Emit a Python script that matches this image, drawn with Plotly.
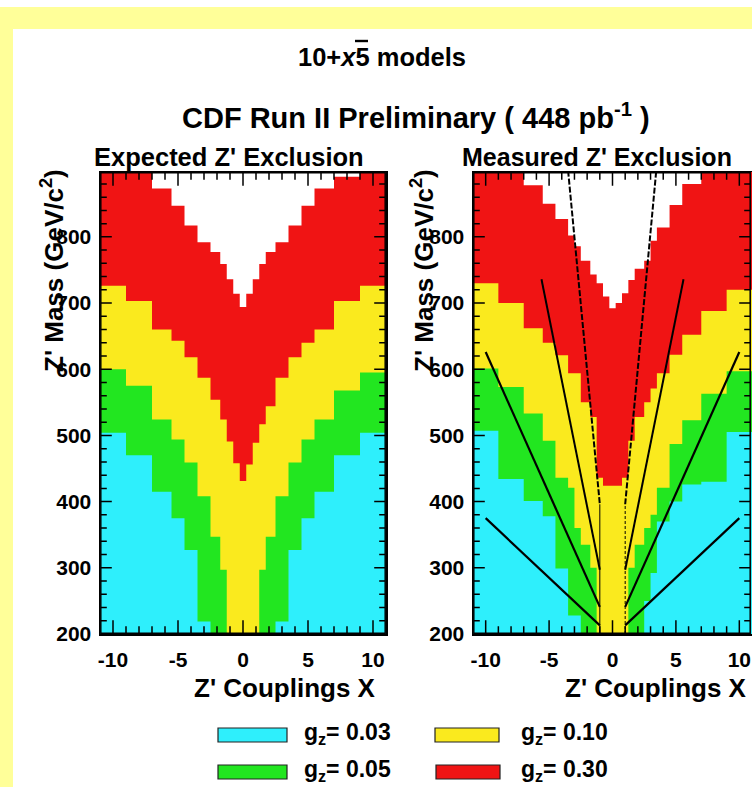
import plotly.graph_objects as go

# ---------------- data ----------------
# coupling bins (bin edges) for the two panels
EDGES_EXP = [-11, -9, -7, -5.5, -4.5, -3.5, -2.5, -1.75, -1.25, -0.75, -0.25,
             0.25, 0.75, 1.25, 1.75, 2.5, 3.5, 4.5, 5.5, 7, 9, 11]
EDGES_MEAS = [-11, -9, -7, -5.5, -4.5, -3.5, -3, -2.5, -1.75, -1.25, -0.75, -0.25,
              0.25, 0.75, 1.25, 1.75, 2.5, 3, 3.5, 4.5, 5.5, 7, 9, 11]

# upper excluded Z' mass (GeV/c^2) in each coupling bin, per g_z value
EXP_G030 = [900, 900, 873, 847, 817, 792, 777, 759, 736, 714, 694, 714, 736, 759, 777, 792, 817, 847, 873, 891, 900]
EXP_G010 = [726, 703, 660, 643, 618, 587, 554, 524, 491, 458, 431, 456, 489, 517, 544, 587, 618, 640, 660, 703, 726]
EXP_G005 = [600, 575, 524, 494, 459, 408, 347, 297, 200, 200, 200, 200, 200, 297, 347, 408, 459, 494, 524, 568, 595]
EXP_G003 = [504, 470, 415, 375, 327, 219, 200, 200, 200, 200, 200, 200, 200, 200, 200, 219, 327, 375, 415, 470, 504]

MEAS_G030 = [900, 900, 878, 850, 827, 802, 786, 764, 743, 730, 710, 692, 700, 715, 735, 752, 764, 794, 814, 848, 880, 900, 900]
MEAS_G010 = [730, 700, 662, 640, 621, 594, 594, 550, 528, 436, 424, 424, 424, 436, 492, 528, 550, 571, 594, 622, 652, 688, 720]
MEAS_G005 = [601, 573, 533, 492, 436, 421, 360, 335, 300, 200, 200, 200, 200, 200, 300, 335, 360, 380, 421, 487, 523, 563, 597]
MEAS_G003 = [507, 434, 401, 378, 299, 228, 228, 200, 200, 200, 200, 200, 200, 200, 200, 200, 250, 292, 370, 400, 426, 430, 505]

# model lines drawn on the measured panel
LINE_A_X, LINE_A_M = [-10, -1], [375, 213]
LINE_A2_X, LINE_A2_M = [1, 10], [213, 375]
LINE_B_X, LINE_B_M = [-10, -1], [626, 241]
LINE_B2_X, LINE_B2_M = [1, 10], [241, 626]
LINE_C_X, LINE_C_M = [-5.6, -1], [736, 297]
LINE_C2_X, LINE_C2_M = [1, 5.6], [297, 736]
LINE_D_X, LINE_D_M = [-3.5, -1], [900, 396]
LINE_D2_X, LINE_D2_M = [1, 3.45], [396, 900]
VLINE_L_X, VLINE_L_M = [-1, -1], [200, 396]
VLINE_R_X, VLINE_R_M = [1, 1], [200, 396]

GZ_LABELS = ["0.03", "0.05", "0.10", "0.30"]
X_TICKS = [-10, -5, 0, 5, 10]
X_MINOR = [v for v in range(-10, 11) if v % 5 != 0]
Y_TICKS = [200, 300, 400, 500, 600, 700, 800]
Y_MINOR = [v for v in range(220, 900, 20) if v % 100 != 0]

# ---------------- style ----------------
W, H = 752, 787
FONT = "Liberation Sans"
C_CYAN = "#2EEFFC"
C_GREEN = "#22E620"
C_YELLOW = "#FAEA1E"
C_RED = "#F01414"
C_FRAME = "#FFFF99"
COLORS = {"0.03": C_CYAN, "0.05": C_GREEN, "0.10": C_YELLOW, "0.30": C_RED}
XR = [-11, 11]
YR = [200, 898]
PANEL_TOP, PANEL_BOT = 172, 634
PANELS = {"x": (100, 386), "x2": (473, 752)}
AXPAIR = {"x": "y", "x2": "y2"}


def fx(p):
    return p / W


def fy(p):
    return 1 - p / H


fig = go.Figure()


def add_levels(edges, tops_by_level, xa, ya):
    for gz, tops in tops_by_level:
        fig.add_trace(go.Scatter(
            x=edges, y=list(tops) + [tops[-1]], mode="lines",
            line=dict(width=0, shape="hv", color=COLORS[gz]),
            fill="tozeroy", fillcolor=COLORS[gz],
            xaxis=xa, yaxis=ya, hoverinfo="skip", showlegend=False))


add_levels(EDGES_EXP, [("0.30", EXP_G030), ("0.10", EXP_G010),
                       ("0.05", EXP_G005), ("0.03", EXP_G003)], "x", "y")
add_levels(EDGES_MEAS, [("0.30", MEAS_G030), ("0.10", MEAS_G010),
                        ("0.05", MEAS_G005), ("0.03", MEAS_G003)], "x2", "y2")


def seg(xs, ys, xa, ya, wd=1.5, dash="solid"):
    fig.add_trace(go.Scatter(x=list(xs), y=list(ys), mode="lines",
                             line=dict(color="black", width=wd, dash=dash),
                             xaxis=xa, yaxis=ya, hoverinfo="skip",
                             showlegend=False))


# ROOT-style frame with inside tick marks on all four sides, drawn in data space
def add_frame(xa):
    ya = AXPAIR[xa]
    p0, p1 = PANELS[xa]
    kx = (XR[1] - XR[0]) / (p1 - p0)            # data units per pixel
    ky = (YR[1] - YR[0]) / (PANEL_BOT - PANEL_TOP)
    x0, x1 = XR[0] + 0.8 * kx, XR[1] - (1.8 if xa == "x2" else 0.8) * kx
    y0, y1 = YR[0] + 0.8 * ky, YR[1] - 0.8 * ky
    xt = sorted([(v, 13) for v in X_TICKS] + [(v, 7) for v in X_MINOR])
    yt = sorted([(v, 11) for v in Y_TICKS] + [(v, 6) for v in Y_MINOR])
    xs, ys = [x0], [y0]
    for v, L in xt:                       # bottom, left -> right
        xs += [v, v, v]
        ys += [y0, y0 + L * ky, y0]
    xs.append(x1); ys.append(y0)
    for v, L in yt:                       # right, bottom -> top
        xs += [x1, x1 - L * kx, x1]
        ys += [v, v, v]
    xs.append(x1); ys.append(y1)
    for v, L in reversed(xt):             # top, right -> left
        xs += [v, v, v]
        ys += [y1, y1 - L * ky, y1]
    xs.append(x0); ys.append(y1)
    for v, L in reversed(yt):             # left, top -> bottom
        xs += [x0, x0 + L * kx, x0]
        ys += [v, v, v]
    xs.append(x0); ys.append(y0)
    seg(xs, ys, xa, ya, 1.5)


add_frame("x")
add_frame("x2")

for lx, lm, dash, wd in [
    (LINE_A_X, LINE_A_M, "solid", 2.2), (LINE_A2_X, LINE_A2_M, "solid", 2.2),
    (LINE_B_X, LINE_B_M, "solid", 2.2), (LINE_B2_X, LINE_B2_M, "solid", 2.2),
    (LINE_C_X, LINE_C_M, "solid", 2.0), (LINE_C2_X, LINE_C2_M, "solid", 2.0),
    (LINE_D_X, LINE_D_M, "6px,2px", 2.0), (LINE_D2_X, LINE_D2_M, "6px,2px", 2.0),
    (VLINE_L_X, VLINE_L_M, "solid", 1.0), (VLINE_R_X, VLINE_R_M, "3px,2px", 1.0),
]:
    seg(lx, lm, "x2", "y2", wd, dash)

tickfont = dict(family=FONT, size=21, color="black", weight="bold")
xcommon = dict(range=XR, tickmode="array", tickvals=X_TICKS,
               ticktext=[str(v) for v in X_TICKS], ticks="",
               showline=True, linecolor="black", linewidth=1.5, mirror=True,
               layer="above traces",
               showgrid=False, zeroline=False, automargin=False,
               tickfont=tickfont, ticklabelstandoff=6)
ycommon = dict(range=YR, tickmode="array", tickvals=Y_TICKS,
               ticktext=[str(v) for v in Y_TICKS], ticks="",
               showline=True, linecolor="black", linewidth=1.5, mirror=True,
               layer="above traces",
               showgrid=False, zeroline=False, automargin=False,
               tickfont=tickfont, ticklabelstandoff=3)

y_dom = [fy(PANEL_BOT), fy(PANEL_TOP)]
fig.update_layout(
    width=W, height=H, autosize=False, margin=dict(l=0, r=0, t=0, b=0, pad=0),
    paper_bgcolor="white", plot_bgcolor="white", showlegend=False,
    xaxis=dict(domain=[fx(PANELS["x"][0]), fx(PANELS["x"][1])], anchor="y", **xcommon),
    yaxis=dict(domain=y_dom, anchor="x", **ycommon),
    xaxis2=dict(domain=[fx(PANELS["x2"][0]), 1.0], anchor="y2", **xcommon),
    yaxis2=dict(domain=y_dom, anchor="x2", **ycommon),
)

shapes = [
    dict(type="rect", xref="paper", yref="paper", x0=0, x1=1, y0=fy(29), y1=fy(7),
         fillcolor=C_FRAME, line=dict(width=0), layer="below"),
    dict(type="rect", xref="paper", yref="paper", x0=0, x1=fx(13), y0=0, y1=fy(7),
         fillcolor=C_FRAME, line=dict(width=0), layer="below"),
    # bar over the "5" of the title
    dict(type="line", xref="paper", yref="paper", x0=fx(355), x1=fx(368),
         y0=fy(41), y1=fy(41), line=dict(color="black", width=2.4)),
]

annotations = []


def text(x, y, s, size, xanchor="center", angle=0, weight="bold"):
    annotations.append(dict(xref="paper", yref="paper", x=fx(x), y=fy(y), text=s,
                            showarrow=False, xanchor=xanchor, yanchor="middle",
                            textangle=angle,
                            font=dict(family=FONT, size=size, color="black",
                                      weight=weight)))


text(296, 57, "10+<i>x</i>5 models", 25.5, xanchor="left")
text(416, 116, "CDF Run II Preliminary ( 448 pb<sup>-1</sup> )", 29)
text(229, 157, "Expected Z' Exclusion", 25.5)
text(597, 157, "Measured Z' Exclusion", 25)
text(52, 271, "Z' Mass (GeV/c<sup>2</sup>)", 26, angle=-90)
text(422, 271, "Z' Mass (GeV/c<sup>2</sup>)", 26, angle=-90)
text(378, 688, "Z' Couplings X", 26, xanchor="right")
text(749, 688, "Z' Couplings X", 26, xanchor="right")

# legend (2 x 2)
legend_pos = {"0.03": (218, 287, 728, 742, 302), "0.05": (218, 287, 765, 779, 302),
              "0.10": (435, 499, 728, 742, 519), "0.30": (436, 500, 765, 779, 519)}
for gz in GZ_LABELS:
    x0, x1, y0, y1, tx = legend_pos[gz]
    shapes.append(dict(type="rect", xref="paper", yref="paper",
                       x0=fx(x0), x1=fx(x1), y0=fy(y1), y1=fy(y0),
                       fillcolor=COLORS[gz], line=dict(color="#222222", width=1.2)))
    text(tx, (y0 + y1) / 2 - 2, "g<sub>z</sub>= " + gz, 23, xanchor="left")

fig.update_layout(shapes=shapes, annotations=annotations)
fig.write_html("out.html", config={"staticPlot": True})
